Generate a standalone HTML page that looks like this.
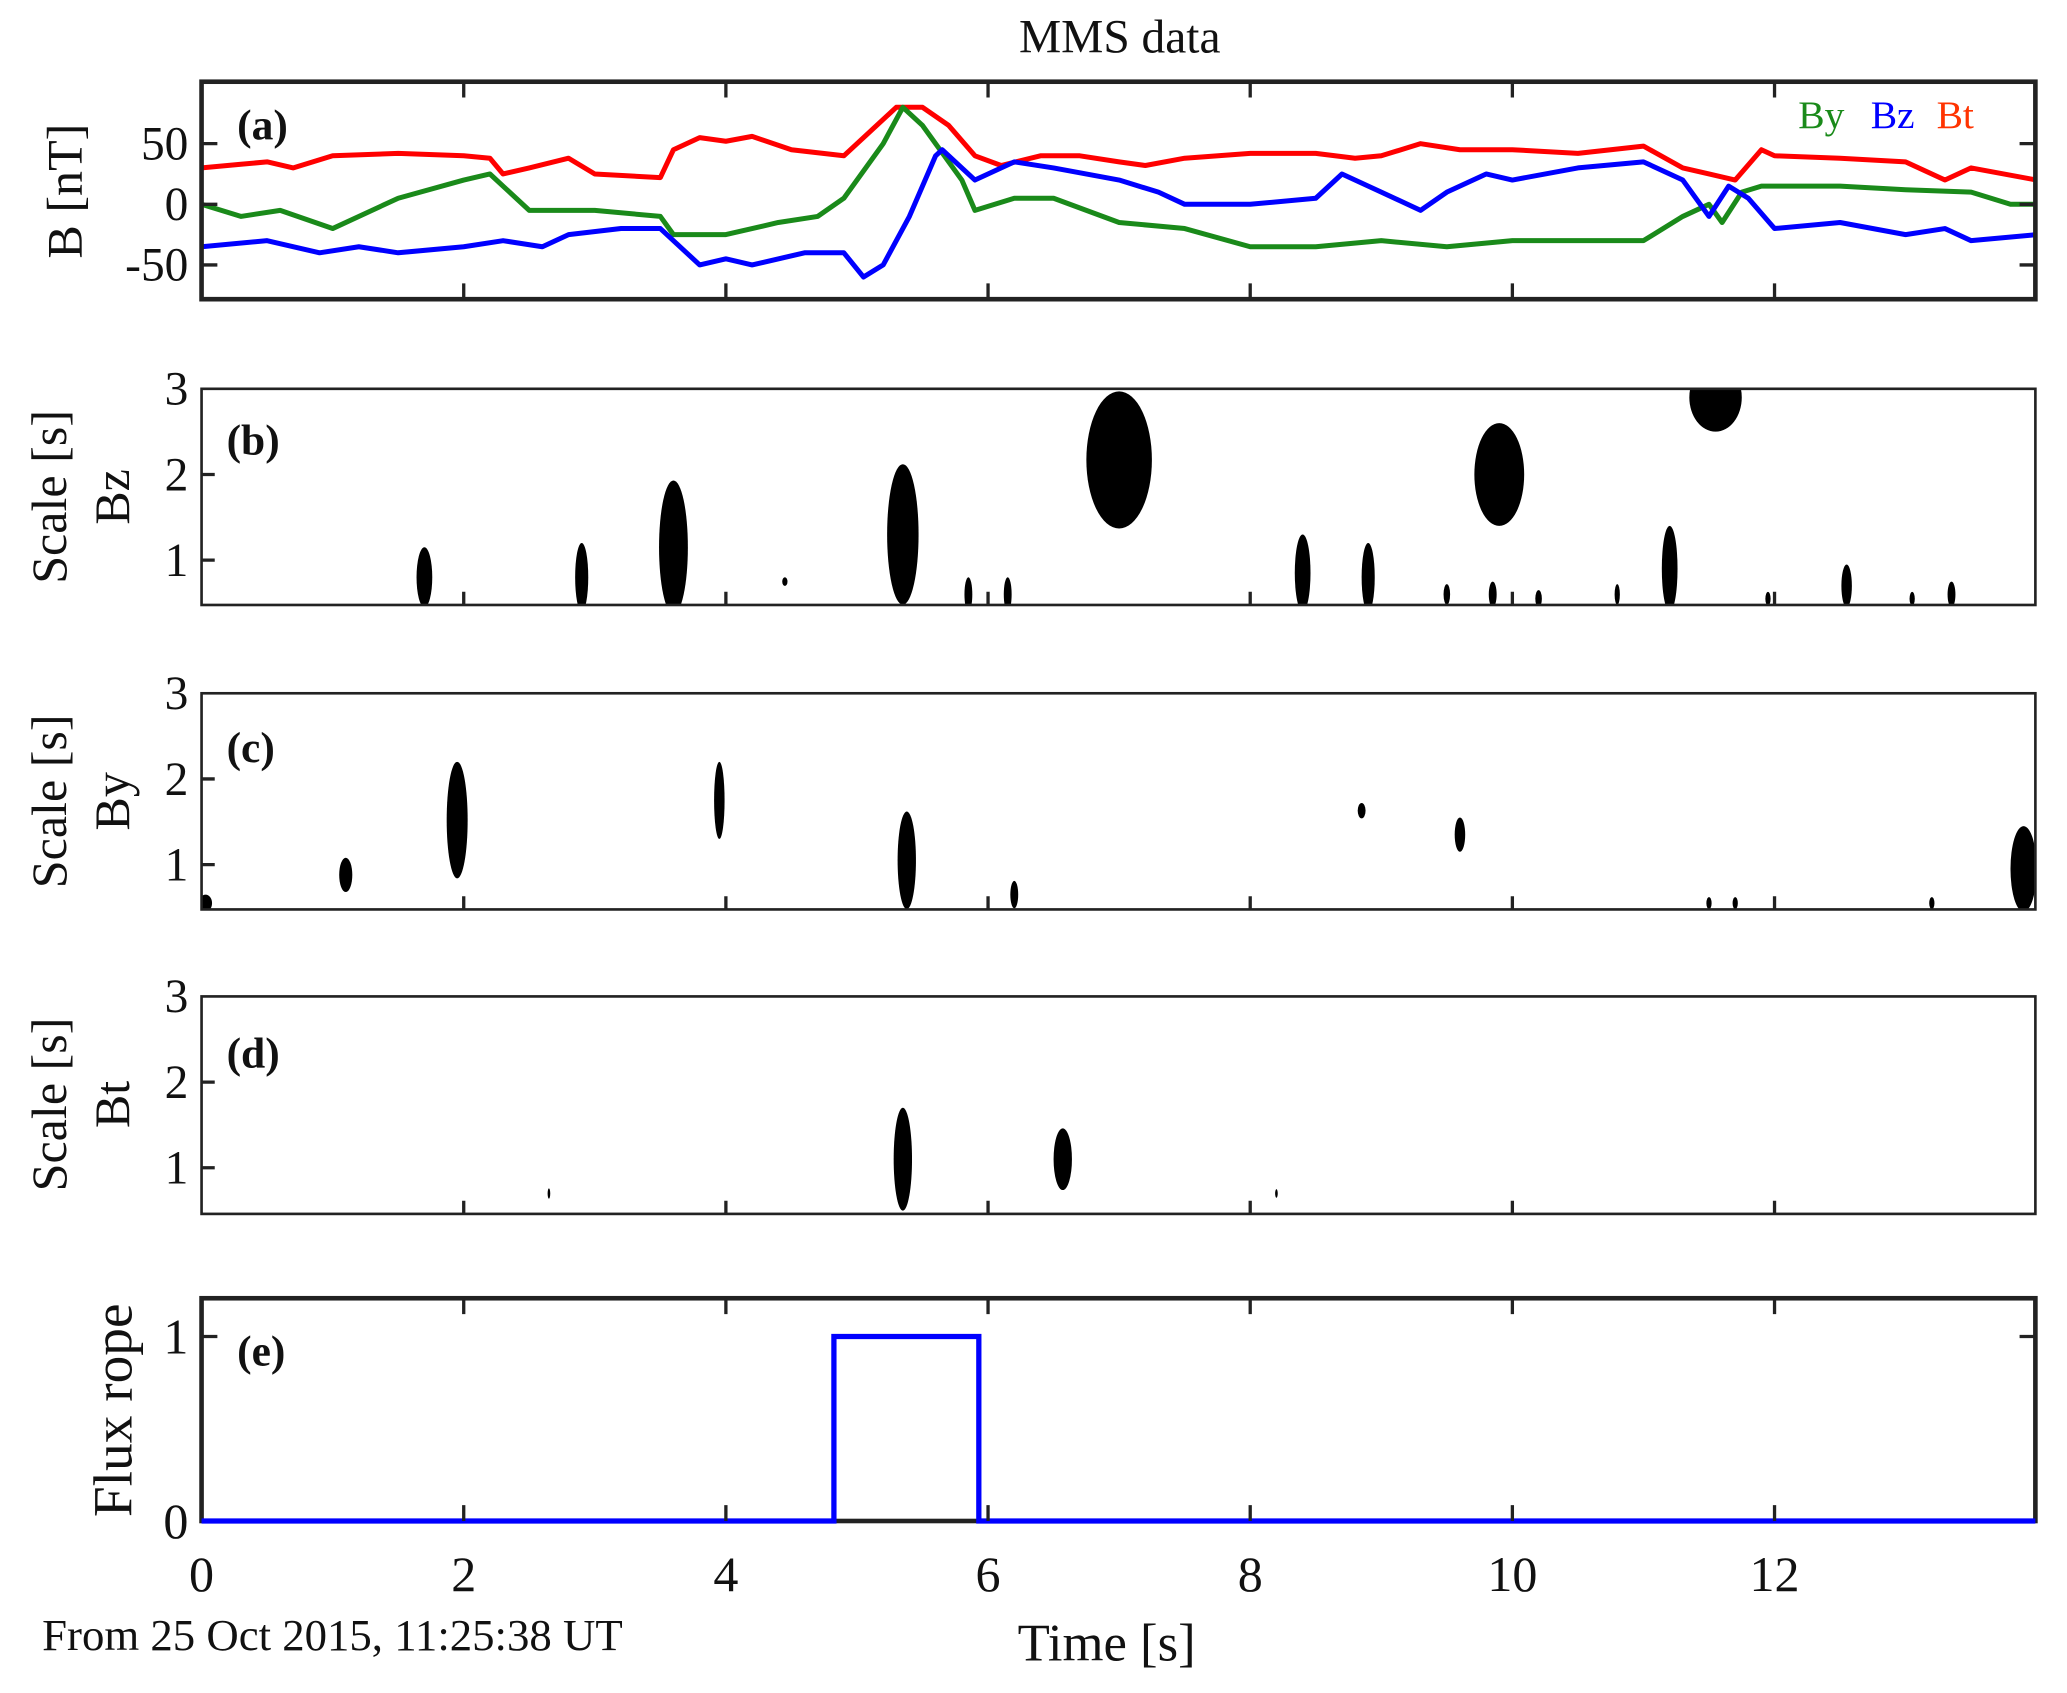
<!DOCTYPE html>
<html><head><meta charset="utf-8"><style>
html,body{margin:0;padding:0;background:#fff;}
svg{display:block;}
text{font-family:"Liberation Serif",serif;fill:#111;}
</style></head><body>
<svg width="2067" height="1693" viewBox="0 0 1569 1284.5" preserveAspectRatio="none" xmlns="http://www.w3.org/2000/svg">
<defs>
<clipPath id="ca"><rect x="153" y="62" width="1392" height="165"/></clipPath>
<clipPath id="cb"><rect x="153" y="295" width="1392" height="164"/></clipPath>
<clipPath id="cc"><rect x="153" y="526" width="1392" height="164"/></clipPath>
<clipPath id="cd"><rect x="153" y="756" width="1392" height="165"/></clipPath>
</defs>
<text x="850" y="40" font-size="36" text-anchor="middle">MMS data</text>

<!-- Panel a -->
<g clip-path="url(#ca)">
<g transform="translate(153,155) scale(99.5,-0.92)" fill="none" stroke-width="5" stroke-linejoin="round">
<polyline vector-effect="non-scaling-stroke" stroke="#ff0000" points="0,30 0.3,33 0.5,35 0.7,30 1,40 1.5,42 2,40 2.2,38 2.3,25 2.5,30 2.8,38 3,25 3.5,22 3.6,45 3.8,55 4,52 4.2,56 4.5,45 4.9,40 5.1,60 5.3,80 5.5,80 5.7,65 5.9,40 6.1,32 6.4,40 6.7,40 7,35 7.2,32 7.5,38 8,42 8.5,42 8.8,38 9,40 9.3,50 9.6,45 10,45 10.5,42 11,48 11.3,30 11.5,25 11.7,20 11.9,45 12,40 12.5,38 13,35 13.3,20 13.5,30 14,20"/>
<polyline vector-effect="non-scaling-stroke" stroke="#1a8a1a" points="0,0 0.3,-10 0.6,-5 1,-20 1.3,-5 1.5,5 2,20 2.2,25 2.5,-5 3,-5 3.5,-10 3.6,-25 4,-25 4.4,-15 4.7,-10 4.9,5 5.2,50 5.35,80 5.5,65 5.8,20 5.9,-5 6.2,5 6.5,5 7,-15 7.5,-20 8,-35 8.5,-35 9,-30 9.5,-35 10,-30 10.5,-30 11,-30 11.3,-10 11.5,0 11.6,-15 11.75,10 11.9,15 12.5,15 13,12 13.5,10 13.8,0 14,0"/>
<polyline vector-effect="non-scaling-stroke" stroke="#0000ff" points="0,-35 0.5,-30 0.9,-40 1.2,-35 1.5,-40 2,-35 2.3,-30 2.6,-35 2.8,-25 3.2,-20 3.5,-20 3.7,-40 3.8,-50 4,-45 4.2,-50 4.6,-40 4.9,-40 5.05,-60 5.2,-50 5.4,-10 5.6,40 5.65,45 5.9,20 6.2,35 6.5,30 7,20 7.3,10 7.5,0 8,0 8.5,5 8.7,25 9,10 9.3,-5 9.5,10 9.8,25 10,20 10.5,30 11,35 11.3,20 11.5,-10 11.65,15 11.8,5 12,-20 12.5,-15 13,-25 13.3,-20 13.5,-30 14,-25"/>
</g></g>
<rect x="153" y="62" width="1392" height="165" fill="none" stroke="#222" stroke-width="3.5"/>
<text x="180" y="106" font-size="33" font-weight="bold">(a)</text>
<text x="1365" y="97" font-size="30" style="fill:#1a8a1a">By</text>
<text x="1420" y="97" font-size="30" style="fill:#0000ff">Bz</text>
<text x="1470" y="97" font-size="30" style="fill:#ff3300">Bt</text>
<g font-size="36" text-anchor="end">
<text x="143" y="121">50</text><text x="143" y="167">0</text><text x="143" y="213">-50</text>
</g>
<text transform="translate(62,145) rotate(-90)" font-size="38" text-anchor="middle">B [nT]</text>

<!-- Panel b -->
<g clip-path="url(#cb)" fill="#000">
<g transform="translate(153,490) scale(99.5,-65)">
<ellipse cx="1.7" cy="0.8" rx="0.06" ry="0.35"/>
<ellipse cx="2.9" cy="0.8" rx="0.05" ry="0.4"/>
<ellipse cx="3.6" cy="1.15" rx="0.11" ry="0.78"/>
<ellipse cx="4.45" cy="0.75" rx="0.02" ry="0.05"/>
<ellipse cx="5.35" cy="1.3" rx="0.12" ry="0.82"/>
<ellipse cx="5.85" cy="0.6" rx="0.03" ry="0.2"/>
<ellipse cx="6.15" cy="0.6" rx="0.03" ry="0.2"/>
<ellipse cx="7.0" cy="2.17" rx="0.25" ry="0.8"/>
<ellipse cx="9.9" cy="2.0" rx="0.19" ry="0.6"/>
<ellipse cx="11.55" cy="2.9" rx="0.2" ry="0.4"/>
<ellipse cx="8.4" cy="0.85" rx="0.06" ry="0.45"/>
<ellipse cx="8.9" cy="0.8" rx="0.05" ry="0.4"/>
<ellipse cx="11.2" cy="0.9" rx="0.06" ry="0.5"/>
<ellipse cx="12.55" cy="0.7" rx="0.04" ry="0.25"/>
<ellipse cx="13.35" cy="0.6" rx="0.03" ry="0.15"/>
<ellipse cx="9.5" cy="0.6" rx="0.025" ry="0.12"/>
<ellipse cx="9.85" cy="0.6" rx="0.03" ry="0.15"/>
<ellipse cx="10.2" cy="0.55" rx="0.025" ry="0.1"/>
<ellipse cx="10.8" cy="0.6" rx="0.02" ry="0.12"/>
<ellipse cx="13.05" cy="0.55" rx="0.02" ry="0.08"/>
<ellipse cx="11.95" cy="0.55" rx="0.02" ry="0.08"/>
</g></g>
<rect x="153" y="295" width="1392" height="164" fill="none" stroke="#222" stroke-width="2"/>
<text x="172" y="345" font-size="33" font-weight="bold">(b)</text>
<g font-size="36" text-anchor="end"><text x="143" y="307">3</text><text x="143" y="372">2</text><text x="143" y="437">1</text></g>
<text transform="translate(50,377) rotate(-90)" font-size="38" text-anchor="middle">Scale [s]</text>
<text transform="translate(98,377) rotate(-90)" font-size="38" text-anchor="middle">Bz</text>

<!-- Panel c -->
<g clip-path="url(#cc)" fill="#000">
<g transform="translate(153,721) scale(99.5,-65)">
<ellipse cx="1.1" cy="0.88" rx="0.05" ry="0.2"/>
<ellipse cx="1.95" cy="1.52" rx="0.08" ry="0.68"/>
<ellipse cx="3.95" cy="1.75" rx="0.04" ry="0.45"/>
<ellipse cx="5.38" cy="1.05" rx="0.07" ry="0.57"/>
<ellipse cx="6.2" cy="0.65" rx="0.03" ry="0.16"/>
<ellipse cx="8.85" cy="1.63" rx="0.03" ry="0.09"/>
<ellipse cx="9.6" cy="1.35" rx="0.04" ry="0.2"/>
<ellipse cx="13.9" cy="0.95" rx="0.1" ry="0.5"/>
<ellipse cx="0.03" cy="0.55" rx="0.05" ry="0.1"/>
<ellipse cx="11.5" cy="0.55" rx="0.02" ry="0.07"/>
<ellipse cx="11.7" cy="0.55" rx="0.02" ry="0.07"/>
<ellipse cx="13.2" cy="0.55" rx="0.02" ry="0.07"/>
</g></g>
<rect x="153" y="526" width="1392" height="164" fill="none" stroke="#222" stroke-width="2"/>
<text x="172" y="578" font-size="33" font-weight="bold">(c)</text>
<g font-size="36" text-anchor="end"><text x="143" y="538">3</text><text x="143" y="603">2</text><text x="143" y="668">1</text></g>
<text transform="translate(50,608) rotate(-90)" font-size="38" text-anchor="middle">Scale [s]</text>
<text transform="translate(98,608) rotate(-90)" font-size="38" text-anchor="middle">By</text>

<!-- Panel d -->
<g clip-path="url(#cd)" fill="#000">
<g transform="translate(153,951) scale(99.5,-65)">
<ellipse cx="5.35" cy="1.1" rx="0.07" ry="0.6"/>
<ellipse cx="6.57" cy="1.1" rx="0.07" ry="0.36"/>
<ellipse cx="2.65" cy="0.7" rx="0.01" ry="0.06"/>
<ellipse cx="8.2" cy="0.7" rx="0.01" ry="0.05"/>
</g></g>
<rect x="153" y="756" width="1392" height="165" fill="none" stroke="#222" stroke-width="2"/>
<text x="172" y="810" font-size="33" font-weight="bold">(d)</text>
<g font-size="36" text-anchor="end"><text x="143" y="768">3</text><text x="143" y="833">2</text><text x="143" y="898">1</text></g>
<text transform="translate(50,838) rotate(-90)" font-size="38" text-anchor="middle">Scale [s]</text>
<text transform="translate(98,838) rotate(-90)" font-size="38" text-anchor="middle">Bt</text>

<!-- Panel e -->
<rect x="153" y="985" width="1392" height="169" fill="none" stroke="#222" stroke-width="3.5"/>
<polyline fill="none" stroke="#0000ff" stroke-width="4" points="153,1154 633,1154 633,1014 743,1014 743,1154 1545,1154"/>
<text x="180" y="1036" font-size="33" font-weight="bold">(e)</text>
<g font-size="38" text-anchor="end"><text x="143" y="1027">1</text><text x="143" y="1167">0</text></g>
<text transform="translate(100,1070) rotate(-90)" font-size="42" text-anchor="middle">Flux rope</text>

<!-- x ticks -->
<g stroke="#222" stroke-width="2.5">
<path d="M352,62v12M551,62v12M750,62v12M949,62v12M1148,62v12M1347,62v12M352,227v-12M551,227v-12M750,227v-12M949,227v-12M1148,227v-12M1347,227v-12"/>
<path d="M352,459v-10M551,459v-10M750,459v-10M949,459v-10M1148,459v-10M1347,459v-10"/>
<path d="M352,690v-10M551,690v-10M750,690v-10M949,690v-10M1148,690v-10M1347,690v-10"/>
<path d="M352,921v-10M551,921v-10M750,921v-10M949,921v-10M1148,921v-10M1347,921v-10"/>
<path d="M352,985v12M551,985v12M750,985v12M949,985v12M1148,985v12M1347,985v12M352,1154v-12M551,1154v-12M750,1154v-12M949,1154v-12M1148,1154v-12M1347,1154v-12"/>
<path d="M153,109h12M153,155h12M153,201h12M1545,109h-12M1545,155h-12M1545,201h-12"/>
<path d="M153,360h10M153,425h10M153,591h10M153,656h10M153,821h10M153,886h10"/>
<path d="M153,1014h12M1545,1014h-12"/>
</g>
<g font-size="38" text-anchor="middle">
<text x="153" y="1207">0</text><text x="352" y="1207">2</text><text x="551" y="1207">4</text><text x="750" y="1207">6</text><text x="949" y="1207">8</text><text x="1148" y="1207">10</text><text x="1347" y="1207">12</text>
</g>
<text x="840" y="1260" font-size="40" text-anchor="middle">Time [s]</text>
<text x="32" y="1252" font-size="34">From 25 Oct 2015, 11:25:38 UT</text>
</svg>
</body></html>
